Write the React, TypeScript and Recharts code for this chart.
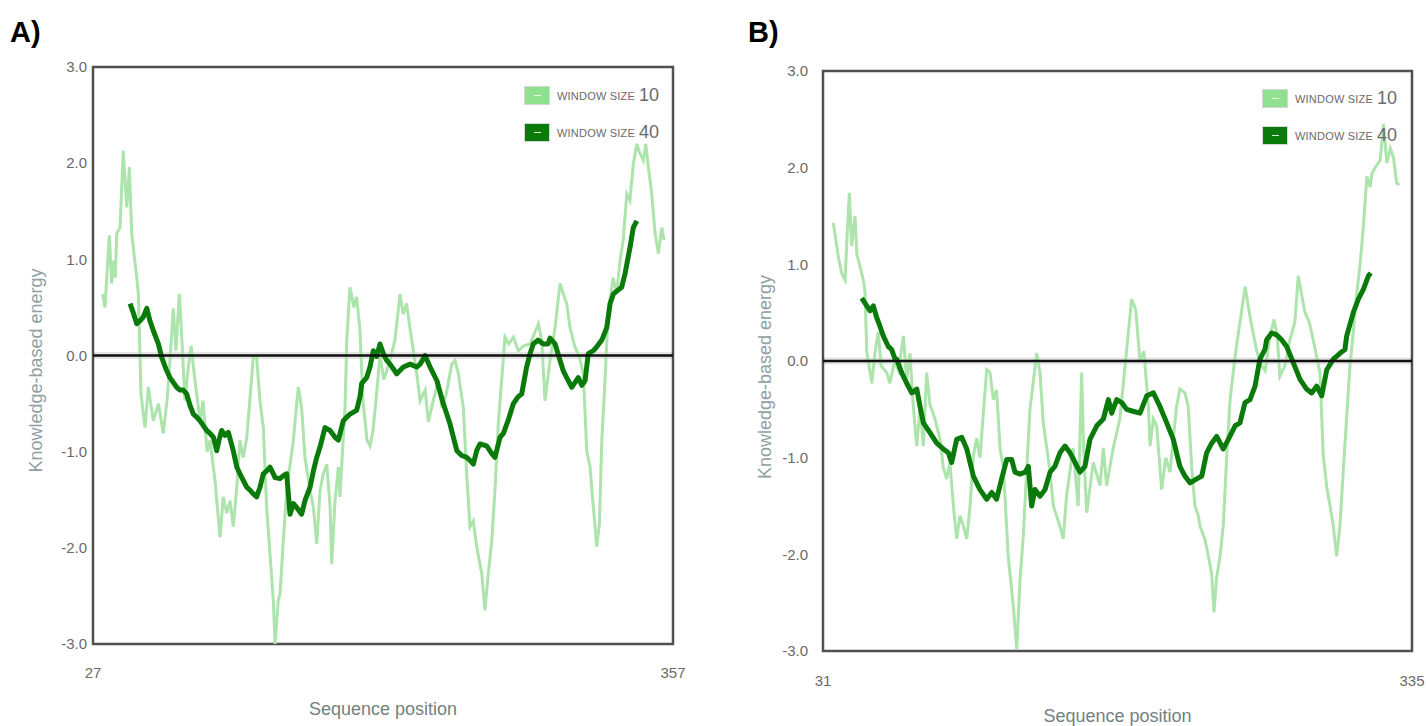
import { LineChart, Line, XAxis, YAxis, ReferenceLine, ReferenceArea, Legend, Label } from 'recharts';

const FONT = '"Liberation Sans", Arial, Helvetica, sans-serif';
const LIGHT = '#ace4ac';
const LIGHT_KEY = '#8fe08f';
const DARK = '#0a7a0a';
const AXIS_GREY = '#6a6a6a';
const X_TITLE_GREY = '#72817f';
const Y_TITLE_GREY = '#8fa0a3';

const yTicks = [-3, -2, -1, 0, 1, 2, 3];
const xTicksA = [27, 357];
const xTicksB = [31, 335];

// panel A, window size 10
const posA10 = [32.5, 33.8, 36.3, 37.6, 38.9, 39.7, 40.5, 42.4, 44.2, 46.2, 47.7, 49.0, 51.9, 52.8, 53.7, 54.3, 56.6, 58.5, 61.3, 64.2, 67.0, 69.1, 70.8, 72.7, 74.2, 76.1, 77.6, 79.3, 81.0, 82.8, 85.0, 87.9, 89.6, 91.9, 93.6, 96.4, 99.3, 101.1, 103.1, 105.0, 106.8, 108.8, 110.6, 112.5, 114.5, 118.2, 120.1, 122.0, 123.9, 125.8, 129.6, 130.6, 132.4, 133.4, 135.3, 137.2, 141.0, 143.8, 145.7, 147.6, 150.5, 152.4, 154.3, 156.2, 158.0, 160.0, 161.9, 162.8, 164.7, 166.6, 167.5, 170.4, 171.4, 173.2, 175.5, 177.0, 178.9, 180.6, 182.9, 184.6, 186.3, 188.0, 190.3, 192.5, 196.0, 198.8, 201.7, 203.5, 205.4, 207.3, 211.2, 213.1, 216.0, 217.8, 220.6, 223.5, 225.4, 228.0, 231.1, 233.0, 234.9, 237.7, 239.6, 241.5, 243.4, 245.3, 248.2, 250.0, 251.9, 253.9, 255.7, 257.6, 260.5, 261.4, 263.5, 266.2, 269.0, 272.0, 275.7, 280.4, 282.3, 284.2, 287.0, 289.9, 292.7, 294.6, 296.5, 298.4, 301.2, 303.5, 306.0, 307.9, 309.8, 311.7, 313.6, 315.1, 316.5, 318.3, 320.2, 323.0, 324.9, 326.9, 328.7, 330.7, 332.5, 334.4, 336.4, 338.2, 340.1, 341.5, 343.0, 344.9, 346.8, 348.7, 350.6, 351.9];
const valA10 = [0.64, 0.5, 1.25, 0.75, 0.99, 0.81, 1.27, 1.33, 2.13, 1.54, 1.96, 1.27, 0.81, 0.64, 0.02, -0.4, -0.75, -0.33, -0.68, -0.5, -0.81, -0.47, -0.05, 0.49, 0.05, 0.64, 0.16, -0.47, -0.16, 0.1, -0.26, -0.68, -0.47, -1.0, -0.88, -1.3, -1.89, -1.47, -1.64, -1.51, -1.78, -1.37, -0.88, -1.06, -0.85, -0.02, -0.02, -0.47, -0.75, -1.58, -2.55, -3.0, -2.55, -2.48, -1.92, -1.4, -0.88, -0.33, -0.54, -1.06, -1.4, -1.58, -1.96, -1.4, -1.23, -1.13, -1.58, -2.17, -1.51, -1.16, -1.47, -0.54, 0.16, 0.71, 0.5, 0.61, 0.26, -0.47, -0.88, -0.94, -0.78, -0.47, 0.0, -0.25, -0.05, 0.16, 0.64, 0.43, 0.54, 0.29, -0.19, -0.47, -0.36, -0.69, -0.47, -0.26, -0.54, -0.4, -0.09, -0.05, -0.19, -0.54, -1.23, -1.78, -1.72, -1.99, -2.27, -2.65, -2.27, -1.92, -1.4, -0.71, -0.02, 0.19, 0.12, 0.19, 0.05, 0.1, 0.12, 0.33, 0.16, -0.47, -0.05, 0.29, 0.75, 0.64, 0.54, 0.29, 0.09, 0.0, -0.19, -0.99, -1.16, -1.58, -1.99, -1.75, -0.88, -0.26, 0.47, 0.81, 0.64, 0.99, 1.2, 1.68, 1.61, 1.99, 2.2, 2.1, 2.03, 2.2, 1.96, 1.68, 1.27, 1.06, 1.33, 1.2];

// panel A, window size 40
const posA40 = [48.1, 50.0, 51.9, 53.7, 55.6, 57.6, 59.4, 61.3, 64.2, 66.1, 68.5, 70.8, 74.6, 76.5, 78.4, 80.3, 82.2, 84.1, 86.0, 87.9, 91.7, 93.6, 95.5, 97.4, 98.7, 100.2, 102.1, 104.0, 106.8, 108.8, 110.6, 114.5, 116.3, 118.2, 120.1, 122.0, 123.9, 125.8, 127.7, 129.6, 130.6, 133.4, 135.3, 137.2, 139.1, 141.0, 142.9, 145.7, 147.6, 150.5, 152.4, 154.3, 156.2, 159.0, 161.9, 164.7, 166.6, 169.4, 171.4, 173.2, 177.0, 178.9, 179.9, 182.7, 184.6, 186.5, 188.4, 190.3, 192.2, 194.1, 196.0, 199.8, 203.6, 207.4, 211.2, 213.1, 215.9, 218.8, 222.6, 226.3, 230.1, 234.0, 236.8, 239.6, 241.5, 243.4, 245.3, 247.2, 251.0, 253.9, 255.7, 258.6, 260.5, 263.1, 266.2, 268.8, 270.9, 273.7, 275.7, 277.5, 280.2, 283.2, 285.9, 287.0, 289.9, 292.7, 294.6, 296.5, 299.4, 301.3, 303.1, 305.1, 307.0, 308.8, 311.7, 313.6, 316.5, 319.3, 321.2, 323.1, 325.7, 327.8, 329.7, 332.6, 334.4, 336.4];
const valA40 = [0.54, 0.44, 0.33, 0.36, 0.4, 0.49, 0.36, 0.26, 0.12, -0.02, -0.14, -0.23, -0.33, -0.36, -0.36, -0.4, -0.52, -0.61, -0.64, -0.68, -0.78, -0.81, -0.85, -0.99, -0.88, -0.78, -0.83, -0.8, -0.99, -1.16, -1.23, -1.37, -1.4, -1.44, -1.47, -1.37, -1.23, -1.2, -1.16, -1.23, -1.27, -1.28, -1.25, -1.23, -1.65, -1.54, -1.58, -1.65, -1.51, -1.37, -1.2, -1.06, -0.95, -0.75, -0.78, -0.85, -0.88, -0.68, -0.64, -0.61, -0.57, -0.43, -0.29, -0.23, -0.12, 0.05, -0.01, 0.12, 0.02, -0.05, -0.09, -0.19, -0.12, -0.09, -0.12, -0.09, 0.0, -0.12, -0.26, -0.5, -0.71, -0.99, -1.04, -1.06, -1.09, -1.13, -0.99, -0.92, -0.94, -1.02, -1.06, -0.85, -0.81, -0.68, -0.5, -0.43, -0.4, -0.12, 0.02, 0.12, 0.16, 0.12, 0.12, 0.18, 0.12, -0.05, -0.16, -0.23, -0.33, -0.28, -0.23, -0.31, -0.26, 0.02, 0.05, 0.09, 0.16, 0.29, 0.54, 0.64, 0.68, 0.71, 0.85, 1.13, 1.33, 1.4];

// panel B, window size 10
const posB10 = [36.3, 38.9, 40.6, 42.4, 43.2, 44.6, 45.8, 47.5, 48.5, 50.1, 51.8, 52.7, 53.6, 55.3, 56.2, 57.8, 59.5, 61.0, 63.9, 65.5, 68.0, 70.0, 72.5, 74.2, 75.9, 77.6, 79.4, 81.1, 82.8, 84.5, 86.2, 88.8, 91.4, 93.1, 94.8, 96.5, 98.3, 100.0, 101.7, 103.5, 105.2, 106.9, 108.6, 110.3, 112.0, 115.5, 117.2, 118.9, 120.6, 122.4, 124.1, 126.6, 129.2, 131.0, 132.7, 134.4, 136.1, 137.8, 141.3, 143.0, 144.7, 148.2, 149.9, 153.3, 155.0, 156.7, 160.1, 162.7, 164.5, 165.5, 167.1, 170.5, 174.0, 175.7, 177.4, 180.8, 184.2, 186.9, 190.3, 192.4, 194.6, 196.6, 199.0, 199.8, 201.5, 203.2, 205.8, 207.9, 210.1, 211.8, 213.5, 215.2, 217.8, 219.5, 221.3, 223.0, 224.7, 225.6, 228.2, 229.9, 231.6, 232.8, 234.1, 235.9, 237.6, 239.4, 241.1, 243.7, 245.4, 248.9, 250.6, 252.3, 254.9, 257.5, 259.2, 261.7, 263.8, 265.5, 266.8, 269.4, 272.0, 274.5, 276.3, 277.9, 279.8, 282.0, 284.0, 287.5, 289.2, 291.0, 292.7, 294.4, 296.1, 297.8, 299.5, 301.3, 303.0, 304.7, 306.5, 308.2, 309.9, 311.7, 313.4, 314.3, 316.0, 318.6, 320.3, 322.0, 323.8, 325.5, 327.1, 328.5];
const valB10 = [1.43, 1.08, 0.91, 0.84, 1.19, 1.74, 1.19, 1.5, 1.1, 0.98, 0.84, 0.71, 0.09, -0.12, -0.23, 0.08, 0.3, -0.05, -0.12, -0.23, 0.0, -0.1, 0.26, -0.19, 0.08, -0.47, -0.88, -0.47, -0.88, -0.12, -0.45, -0.6, -0.81, -1.1, -1.22, -1.05, -1.5, -1.84, -1.6, -1.71, -1.84, -1.5, -0.98, -0.8, -1.0, -0.09, -0.12, -0.4, -0.3, -0.91, -1.1, -2.02, -2.53, -2.98, -2.26, -1.8, -1.15, -0.5, 0.08, -0.12, -0.64, -1.15, -1.5, -1.71, -1.84, -1.4, -0.9, -1.5, -0.12, -0.9, -1.57, -1.05, -1.29, -0.9, -1.29, -0.9, -0.6, -0.05, 0.64, 0.53, 0.0, 0.1, -0.48, -0.88, -0.6, -0.67, -1.33, -1.0, -1.15, -0.8, -0.47, -0.29, -0.33, -0.47, -1.1, -1.5, -1.6, -1.71, -1.85, -2.02, -2.2, -2.6, -2.25, -2.02, -1.7, -0.98, -0.4, 0.05, 0.29, 0.77, 0.55, 0.36, 0.1, -0.05, -0.1, 0.26, 0.43, 0.25, -0.16, -0.05, 0.22, 0.4, 0.88, 0.7, 0.5, 0.4, 0.22, -0.12, -0.98, -1.3, -1.5, -1.71, -2.02, -1.71, -1.15, -0.57, -0.05, 0.3, 0.7, 1.0, 1.39, 1.91, 1.8, 1.94, 2.0, 2.08, 2.45, 2.05, 2.2, 2.1, 1.84, 1.82];

// panel B, window size 40
const posB40 = [51.0, 53.6, 55.3, 57.0, 58.7, 60.4, 62.1, 64.7, 66.4, 68.2, 69.0, 71.6, 74.2, 76.8, 79.4, 81.1, 82.8, 86.2, 89.7, 93.1, 95.7, 97.4, 100.0, 102.6, 105.2, 108.6, 112.0, 115.5, 118.1, 120.6, 123.2, 125.8, 128.4, 130.1, 132.7, 135.3, 137.0, 138.7, 140.4, 143.0, 145.6, 148.2, 150.7, 153.3, 155.9, 158.5, 161.1, 163.6, 166.2, 168.8, 172.3, 175.7, 178.3, 180.0, 182.6, 185.2, 187.7, 191.0, 194.6, 198.1, 201.5, 204.9, 208.4, 211.8, 215.2, 217.8, 220.4, 223.9, 226.5, 229.0, 231.6, 234.2, 237.6, 240.2, 243.7, 246.2, 248.8, 251.4, 254.0, 256.5, 259.1, 260.0, 262.6, 265.1, 267.7, 270.3, 273.8, 277.2, 280.6, 283.2, 285.8, 288.4, 291.0, 294.4, 297.8, 300.4, 301.3, 304.7, 307.3, 309.9, 312.5, 313.7];
const valB40 = [0.65, 0.57, 0.52, 0.57, 0.45, 0.36, 0.26, 0.15, 0.12, 0.02, 0.02, -0.12, -0.23, -0.33, -0.29, -0.47, -0.64, -0.74, -0.85, -0.91, -0.95, -1.05, -0.81, -0.79, -0.91, -1.19, -1.33, -1.43, -1.36, -1.43, -1.22, -1.02, -1.02, -1.15, -1.17, -1.15, -1.09, -1.5, -1.33, -1.4, -1.33, -1.15, -1.09, -0.95, -0.88, -0.95, -1.05, -1.15, -1.09, -0.81, -0.67, -0.6, -0.4, -0.54, -0.4, -0.43, -0.5, -0.52, -0.54, -0.36, -0.33, -0.47, -0.64, -0.81, -1.09, -1.19, -1.26, -1.22, -1.19, -0.95, -0.85, -0.78, -0.91, -0.81, -0.67, -0.64, -0.43, -0.4, -0.26, 0.02, 0.12, 0.22, 0.29, 0.27, 0.22, 0.15, -0.02, -0.19, -0.29, -0.33, -0.26, -0.36, -0.09, 0.02, 0.08, 0.12, 0.26, 0.5, 0.64, 0.74, 0.88, 0.91];

const zip = (pos: number[], val: number[]) => pos.map((p, i) => ({ pos: p, val: val[i] }));

const LEGEND = [
  { size: '10', color: LIGHT_KEY },
  { size: '40', color: DARK },
];

const renderLegend = () => (
  <div style={{ fontFamily: FONT, color: AXIS_GREY }}>
    {LEGEND.map((item) => (
      <div key={item.size} style={{ display: 'flex', alignItems: 'center', height: 37 }}>
        <div
          style={{
            width: 24,
            height: 17,
            background: item.color,
            border: '1px solid #d6d6d6',
            display: 'flex',
            alignItems: 'center',
            justifyContent: 'center',
          }}
        >
          <div style={{ width: 7, height: 1.5, background: 'rgba(255,255,255,0.85)' }} />
        </div>
        <span style={{ marginLeft: 7, fontSize: 11, letterSpacing: 0.2 }}>WINDOW SIZE</span>
        <span style={{ marginLeft: 4, fontSize: 18 }}>{item.size}</span>
      </div>
    ))}
  </div>
);

interface PanelProps {
  left: number;
  width: number;
  margin: { top: number; right: number; bottom: number; left: number };
  domain: [number, number];
  xTicks: number[];
  xTickMargin: number;
  yTickMargin: number;
  light: { pos: number; val: number }[];
  dark: { pos: number; val: number }[];
  legendLeft: number;
  legendTop: number;
  yTitleInset: number;
  yTitleShift: number;
  xTitleDrop: number;
}

const Y_AXIS_W = 60;

const Panel = (p: PanelProps) => (
  <div style={{ position: 'absolute', left: p.left, top: 0 }}>
    <LineChart width={p.width} height={726} margin={p.margin}>
      <XAxis
        dataKey="pos"
        type="number"
        domain={p.domain}
        ticks={p.xTicks}
        allowDataOverflow
        axisLine={false}
        tickLine={false}
        tickSize={0}
        tickMargin={p.xTickMargin}
        height={72}
        tick={{ fill: AXIS_GREY, fontSize: 15, fontFamily: FONT }}
      >
        <Label
          content={({ viewBox }: any) =>
            viewBox ? (
              <text
                x={viewBox.x + viewBox.width / 2}
                y={viewBox.y + p.xTitleDrop}
                textAnchor="middle"
                fill={X_TITLE_GREY}
                fontSize={18}
                fontFamily={FONT}
              >
                Sequence position
              </text>
            ) : null
          }
        />
      </XAxis>
      <YAxis
        type="number"
        domain={[-3, 3]}
        ticks={yTicks}
        width={Y_AXIS_W}
        axisLine={false}
        tickLine={false}
        tickSize={0}
        tickMargin={p.yTickMargin}
        tickFormatter={(v: number) => v.toFixed(1)}
        tick={{ fill: AXIS_GREY, fontSize: 15, fontFamily: FONT }}
      >
        <Label
          content={({ viewBox }: any) => {
            if (!viewBox) return null;
            const cx = viewBox.x + viewBox.width - p.yTitleInset;
            const cy = viewBox.y + viewBox.height / 2 + p.yTitleShift;
            return (
              <text
                x={cx}
                y={cy}
                transform={`rotate(-90 ${cx} ${cy})`}
                textAnchor="middle"
                dominantBaseline="central"
                fill={Y_TITLE_GREY}
                fontSize={18}
                fontFamily={FONT}
              >
                Knowledge-based energy
              </text>
            );
          }}
        />
      </YAxis>
      <Legend
        content={renderLegend}
        layout="vertical"
        align="center"
        verticalAlign="middle"
        wrapperStyle={{ left: p.legendLeft, top: p.legendTop, width: 160 }}
      />
      <ReferenceLine y={0} stroke="rgba(0,0,0,0.1)" strokeWidth={7} />
      <Line
        data={p.light}
        dataKey="val"
        type="linear"
        stroke={LIGHT}
        strokeWidth={3}
        dot={false}
        activeDot={false}
        legendType="none"
        isAnimationActive={false}
      />
      <Line
        data={p.dark}
        dataKey="val"
        type="linear"
        stroke={DARK}
        strokeWidth={5}
        strokeLinejoin="round"
        dot={false}
        activeDot={false}
        legendType="none"
        isAnimationActive={false}
      />
      <ReferenceLine y={0} stroke="#111" strokeWidth={2.5} />
      <ReferenceArea
        x1={p.domain[0]}
        x2={p.domain[1]}
        y1={-3}
        y2={3}
        fill="none"
        fillOpacity={0}
        stroke="#505050"
        strokeWidth={2.5}
      />
    </LineChart>
  </div>
);

const PanelTag = ({ text, left }: { text: string; left: number }) => (
  <div
    style={{
      position: 'absolute',
      left,
      top: 18,
      fontFamily: FONT,
      fontWeight: 'bold',
      fontSize: 29,
      lineHeight: '29px',
      color: '#000',
    }}
  >
    {text}
  </div>
);

export default function App() {
  return (
    <div
      style={{
        position: 'absolute',
        left: 0,
        top: 0,
        width: 1426,
        height: 726,
        overflow: 'hidden',
        background: '#fff',
      }}
    >
      <PanelTag text="A)" left={10} />
      <PanelTag text="B)" left={748} />
      <Panel
        left={0}
        width={690}
        margin={{ top: 67, right: 17, bottom: 10, left: 93 - Y_AXIS_W }}
        domain={[27, 357]}
        xTicks={xTicksA}
        xTickMargin={23}
        yTickMargin={6}
        light={zip(posA10, valA10)}
        dark={zip(posA40, valA40)}
        legendLeft={524}
        legendTop={77}
        yTitleInset={57}
        yTitleShift={15}
        xTitleDrop={71}
      />
      <Panel
        left={740}
        width={686}
        margin={{ top: 71, right: 14, bottom: 3, left: 83 - Y_AXIS_W }}
        domain={[31, 335]}
        xTicks={xTicksB}
        xTickMargin={24}
        yTickMargin={15}
        light={zip(posB10, valB10)}
        dark={zip(posB40, valB40)}
        legendLeft={522}
        legendTop={80}
        yTitleInset={58}
        yTitleShift={16}
        xTitleDrop={71}
      />
    </div>
  );
}
